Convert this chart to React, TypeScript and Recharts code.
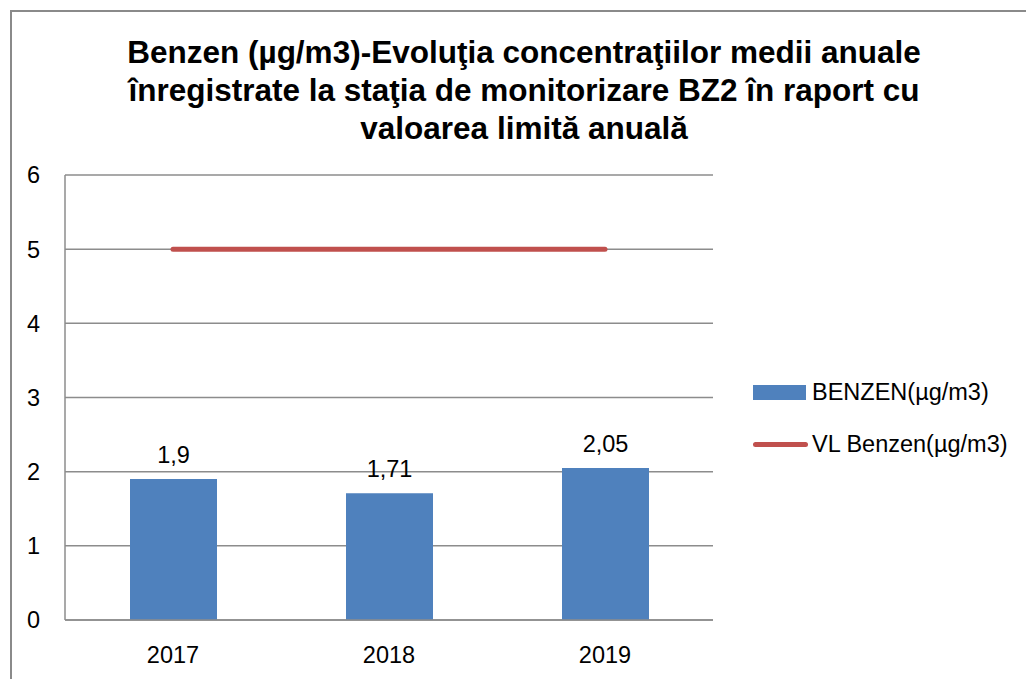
import { ComposedChart, Bar, Line, XAxis, YAxis, CartesianGrid, LabelList } from 'recharts';

const YEARS = ['2017', '2018', '2019'];
const BENZEN = [1.9, 1.71, 2.05];
const VL_BENZEN = [5, 5, 5];
const Y_TICKS = [0, 1, 2, 3, 4, 5, 6];

const BAR_COLOR = '#4F81BD';
const LINE_COLOR = '#C0504D';
const GRID_COLOR = '#8c8c8c';
const FONT = '"Liberation Sans", Arial, sans-serif';
const TEXT_SIZE = 23.5;

const chartData = YEARS.map((year, i) => ({
  year,
  benzen: BENZEN[i],
  vl: VL_BENZEN[i],
}));

const formatComma = (v: any) => String(v).replace('.', ',');

function LegendBox() {
  return (
    <div style={{ position: 'absolute', left: 753, top: 376, fontFamily: FONT, fontSize: TEXT_SIZE, color: '#000' }}>
      <div style={{ display: 'flex', alignItems: 'center', height: 32 }}>
        <div style={{ width: 53, height: 15, background: BAR_COLOR, marginRight: 6 }} />
        <span>BENZEN(µg/m3)</span>
      </div>
      <div style={{ display: 'flex', alignItems: 'center', height: 32, marginTop: 20 }}>
        <div style={{ width: 55, height: 5, borderRadius: 3, background: LINE_COLOR, marginRight: 4 }} />
        <span>VL Benzen(µg/m3)</span>
      </div>
    </div>
  );
}

export default function App() {
  return (
    <div style={{ position: 'absolute', left: 0, top: 0, width: 1026, height: 679, overflow: 'hidden', background: '#fff' }}>
      <div style={{ position: 'absolute', left: 10, top: 10, width: 1040, height: 700, border: '2px solid #8a8a8a', boxSizing: 'border-box' }} />
      <div
        style={{
          position: 'absolute',
          left: 0,
          top: 33,
          width: 1048,
          textAlign: 'center',
          fontFamily: FONT,
          fontWeight: 'bold',
          fontSize: 31.5,
          lineHeight: '38px',
          color: '#000',
        }}
      >
        Benzen (µg/m3)-Evoluţia concentraţiilor medii anuale
        <br />
        înregistrate la staţia de monitorizare BZ2 în raport cu
        <br />
        valoarea limită anuală
      </div>
      <div style={{ position: 'absolute', left: 0, top: 0 }}>
        <ComposedChart
          width={1026}
          height={679}
          data={chartData}
          margin={{ top: 175, right: 313, bottom: 0, left: 0 }}
        >
          <CartesianGrid vertical={false} stroke={GRID_COLOR} strokeWidth={1.5} />
          <XAxis
            dataKey="year"
            height={59}
            axisLine={{ stroke: GRID_COLOR, strokeWidth: 1.5 }}
            tickLine={false}
            tickSize={0}
            tickMargin={26}
            tick={{ fill: '#000', fontSize: TEXT_SIZE, fontFamily: FONT }}
          />
          <YAxis
            width={65}
            domain={[0, 6]}
            ticks={Y_TICKS}
            interval={0}
            axisLine={{ stroke: GRID_COLOR, strokeWidth: 1.5 }}
            tickLine={false}
            tickSize={0}
            tickMargin={25}
            tick={{ fill: '#000', fontSize: TEXT_SIZE, fontFamily: FONT }}
          />
          <Bar dataKey="benzen" fill={BAR_COLOR} barSize={87} isAnimationActive={false}>
            <LabelList
              dataKey="benzen"
              position="top"
              offset={16}
              formatter={formatComma}
              style={{ fill: '#000', fontSize: TEXT_SIZE, fontFamily: FONT }}
            />
          </Bar>
          <Line
            dataKey="vl"
            stroke={LINE_COLOR}
            strokeWidth={5}
            strokeLinecap="round"
            dot={false}
            activeDot={false}
            isAnimationActive={false}
          />
        </ComposedChart>
      </div>
      <LegendBox />
    </div>
  );
}
